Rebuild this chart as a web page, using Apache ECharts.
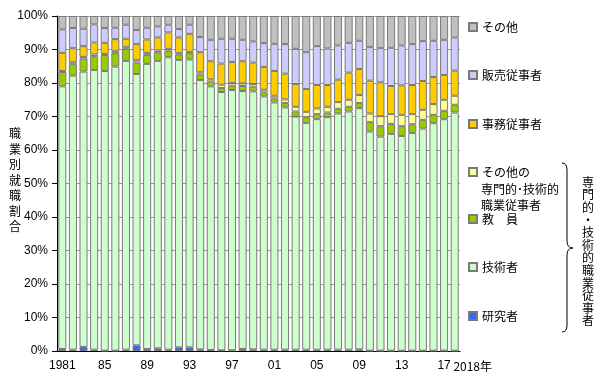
<!DOCTYPE html>
<html>
<head>
<meta charset="utf-8">
<script src="https://cdn.jsdelivr.net/npm/echarts@6/dist/echarts.min.js"></script>
<style>
  html, body { margin: 0; padding: 0; background: #fff; }
  #main { width: 600px; height: 376px; }
</style>
</head>
<body>
<div id="main"></div>
<script>
// 職業別就職割合 (%), 1981-2018
const years = [1981, 1982, 1983, 1984, 1985, 1986, 1987, 1988, 1989, 1990,
  1991, 1992, 1993, 1994, 1995, 1996, 1997, 1998, 1999, 2000,
  2001, 2002, 2003, 2004, 2005, 2006, 2007, 2008, 2009, 2010,
  2011, 2012, 2013, 2014, 2015, 2016, 2017, 2018];

const researchers = [0.6, 0.4, 1.2, 0.4, 0.1, 0.1, 0.4, 1.7, 0.6, 0.8,
  0.4, 1.1, 1.1, 0.5, 0.3, 0.2, 0.2, 0.6, 0.5, 0.4,
  0.4, 0.4, 0.4, 0.4, 0.4, 0.4, 0.4, 0.4, 0.5, 0.1,
  0.1, 0.1, 0.1, 0.1, 0.1, 0.1, 0.1, 0.1];
const engineers = [78.4, 81.8, 82.2, 83.5, 83.5, 84.8, 86.2, 81.0, 85.1, 85.8,
  87.3, 85.8, 85.9, 80.4, 78.7, 77.1, 77.7, 77.0, 77.0, 75.6,
  73.8, 72.3, 69.6, 67.7, 68.8, 69.4, 70.5, 71.1, 72.0, 65.4,
  63.9, 64.7, 64.1, 65.0, 66.3, 67.9, 69.1, 71.1];
const teachers = [4.3, 3.4, 3.9, 4.1, 4.8, 4.0, 3.6, 3.4, 2.7, 2.6,
  2.0, 1.6, 1.9, 1.6, 1.4, 1.2, 1.3, 1.5, 1.4, 1.2,
  1.2, 1.3, 1.5, 1.7, 1.5, 1.4, 1.4, 1.4, 1.5, 2.8,
  3.1, 3.0, 2.9, 2.6, 2.6, 2.5, 2.5, 2.3];
const otherProfessional = [0.3, 0.6, 0.5, 0.5, 0.3, 0.6, 0.6, 0.7, 0.6, 0.5,
  0.5, 0.4, 0.4, 0.7, 0.7, 1.0, 0.8, 0.8, 0.8, 0.8,
  0.8, 1.1, 1.4, 1.6, 1.7, 1.7, 2.0, 2.1, 2.4, 2.6,
  3.0, 2.9, 3.4, 3.0, 3.0, 3.2, 3.3, 2.7];
const clerical = [5.4, 4.2, 3.2, 3.6, 3.3, 3.6, 2.4, 4.8, 4.0, 3.9,
  4.9, 4.7, 5.4, 6.0, 5.4, 6.3, 6.3, 6.6, 6.4, 6.8,
  7.4, 7.7, 6.8, 6.8, 7.0, 6.5, 6.7, 8.1, 7.8, 9.8,
  10.1, 8.4, 8.8, 8.7, 8.6, 8.1, 7.4, 7.5];
const sales = [7.0, 6.0, 5.2, 5.4, 4.4, 3.4, 4.2, 4.2, 3.5, 3.3,
  2.3, 2.5, 2.7, 4.5, 6.4, 7.4, 6.9, 6.4, 6.3, 7.1,
  8.1, 8.8, 10.5, 11.0, 11.6, 10.9, 10.2, 8.9, 8.4, 10.0,
  10.2, 11.4, 11.9, 12.2, 11.9, 10.8, 10.5, 9.9];
const others = [4.0, 3.6, 3.8, 2.5, 3.6, 3.5, 2.6, 4.2, 3.5, 3.1,
  2.6, 3.9, 2.6, 6.3, 7.1, 6.8, 6.8, 7.1, 7.6, 8.1,
  8.3, 8.4, 9.8, 10.8, 9.0, 9.7, 8.8, 8.0, 7.4, 9.3,
  9.6, 9.5, 8.8, 8.4, 7.5, 7.4, 7.1, 6.4];

const yTicks = [0, 10, 20, 30, 40, 50, 60, 70, 80, 90, 100];

const JP = '"Noto Sans CJK JP", sans-serif';
const NUM = '"Liberation Sans", Arial, sans-serif';
const OTHER_PROF = 'その他の専門的・技術的職業従事者';

function bar(name, data, color) {
  return {
    name: name,
    type: 'bar',
    stack: 'all',
    data: data,
    barCategoryGap: '24%',
    itemStyle: { color: color, borderColor: '#7a7a7a', borderWidth: 1 },
    emphasis: { disabled: true }
  };
}

// legend rows: name and vertical centre
const legendRows = [
  ['その他', 27],
  ['販売従事者', 75],
  ['事務従事者', 124],
  [OTHER_PROF, 172],
  ['教　員', 219],
  ['技術者', 267],
  ['研究者', 316]
];

const braceStyle = { fill: 'none', stroke: '#000', lineWidth: 1 };

const chart = echarts.init(document.getElementById('main'));

chart.setOption({
  animation: false,
  grid: { left: 57, right: 140, top: 16, bottom: 25 },
  xAxis: {
    type: 'category',
    data: years,
    axisLine: { lineStyle: { color: '#000', width: 1 } },
    axisTick: { show: false },
    axisLabel: {
      interval: (i) => i % 4 === 0 || i === years.length - 1,
      margin: 9,
      color: '#000',
      fontSize: 12,
      fontFamily: NUM,
      formatter: (v, i) => {
        if (i === 0) return String(v);
        if (i === years.length - 1) return '{y|' + v + '年}';
        return String(v).slice(2);
      },
      rich: { y: { fontSize: 12, fontFamily: JP, padding: [0, 0, 0, 36] } }
    }
  },
  yAxis: {
    type: 'value',
    min: yTicks[0],
    max: yTicks[yTicks.length - 1],
    interval: 10,
    axisLine: { show: true, lineStyle: { color: '#000', width: 1 } },
    axisTick: { show: true, length: 5, lineStyle: { color: '#000' } },
    axisLabel: { color: '#000', fontSize: 12, fontFamily: NUM, margin: 9, formatter: '{value}%' },
    splitLine: { lineStyle: { color: '#999', width: 1 } }
  },
  legend: legendRows.map(([name, y]) => ({
    data: [name],
    left: 468,
    top: y - 7,
    padding: 0,
    icon: 'rect',
    itemWidth: 8,
    itemHeight: 8,
    selectedMode: false,
    formatter: (n) => (n === OTHER_PROF ? 'その他の' : n),
    textStyle: { color: '#000', fontSize: 12, lineHeight: 14, fontFamily: JP }
  })),
  series: [
    bar('研究者', researchers, '#3366ff'),
    bar('技術者', engineers, '#ccffcc'),
    bar('教　員', teachers, '#99cc00'),
    bar(OTHER_PROF, otherProfessional, '#ffff99'),
    bar('事務従事者', clerical, '#ffcc00'),
    bar('販売従事者', sales, '#ccccff'),
    bar('その他', others, '#c0c0c0')
  ],
  graphic: [
    {
      type: 'text', left: 9, top: 126,
      style: { text: '職\n業\n別\n就\n職\n割\n合', fontSize: 12, lineHeight: 15.5, fontFamily: JP, fill: '#000' }
    },
    {
      type: 'text', left: 481, top: 181,
      style: { text: '専門的･技術的\n職業従事者', fontSize: 12, lineHeight: 16.5, fontFamily: JP, fill: '#000' }
    },
    // brace
    { type: 'bezierCurve', shape: { x1: 562, y1: 163, cpx1: 567, cpy1: 163, x2: 567, y2: 170 }, style: braceStyle },
    { type: 'line', shape: { x1: 567, y1: 170, x2: 567, y2: 241 }, style: braceStyle },
    { type: 'bezierCurve', shape: { x1: 567, y1: 241, cpx1: 567, cpy1: 248, x2: 573, y2: 248 }, style: braceStyle },
    { type: 'bezierCurve', shape: { x1: 573, y1: 248, cpx1: 567, cpy1: 248, x2: 567, y2: 255 }, style: braceStyle },
    { type: 'line', shape: { x1: 567, y1: 255, x2: 567, y2: 325 }, style: braceStyle },
    { type: 'bezierCurve', shape: { x1: 567, y1: 325, cpx1: 567, cpy1: 332, x2: 562, y2: 332 }, style: braceStyle },
    {
      type: 'text', left: 582, top: 176,
      style: { text: '専\n門\n的\n・\n技\n術\n的\n職\n業\n従\n事\n者', fontSize: 12, lineHeight: 12.6, fontFamily: JP, fill: '#000' }
    }
  ]
});
</script>
</body>
</html>
